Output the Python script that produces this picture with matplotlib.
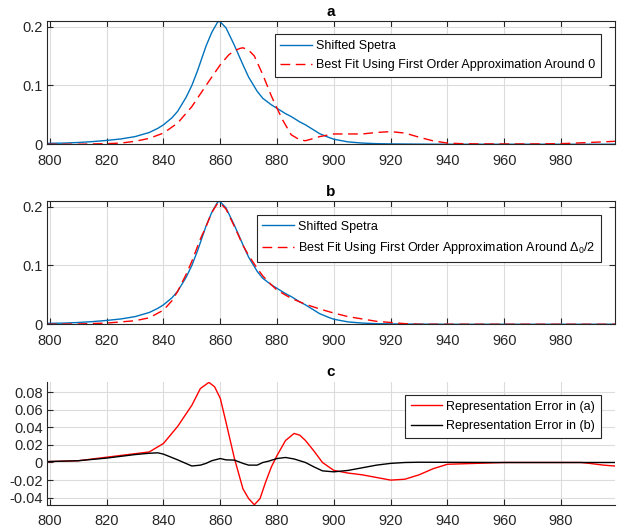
import matplotlib
matplotlib.use("Agg")
import matplotlib.pyplot as plt
from matplotlib.ticker import FormatStrFormatter

plt.rcParams['font.family'] = ['Liberation Sans', 'DejaVu Sans']
plt.rcParams['mathtext.fontset'] = 'custom'
plt.rcParams['mathtext.rm'] = 'Liberation Sans'
plt.rcParams['mathtext.it'] = 'Liberation Sans'
plt.rcParams['axes.unicode_minus'] = False

# shifted spectra (blue, same in a and b)
spec_x = [799, 805, 810, 815, 820, 825, 830, 835, 838, 840, 843, 845, 848, 850, 852, 855, 857,
          859, 859.5, 860, 862, 865, 868, 870, 873, 875, 878, 880, 883, 885, 888, 890, 893, 895,
          898, 900, 905, 910, 915, 920, 930, 940, 960, 980, 999]
spec_y = [0.0015, 0.002, 0.003, 0.0045, 0.0065, 0.009, 0.013, 0.02, 0.027, 0.033, 0.045, 0.056,
          0.08, 0.10, 0.125, 0.167, 0.19, 0.207, 0.209, 0.208, 0.198, 0.168, 0.135, 0.114, 0.09,
          0.078, 0.067, 0.061, 0.052, 0.047, 0.038, 0.033, 0.024, 0.018, 0.012, 0.0085, 0.004,
          0.002, 0.001, 0.0006, 0.0002, 0, 0, 0, 0]

# fit around 0 (panel a)
fit0_x = [799, 810, 820, 825, 830, 835, 840, 845, 850, 855, 860, 863, 865, 867, 868, 870, 872,
          875, 878, 880, 882, 885, 888, 890, 893, 895, 900, 905, 910, 915, 920, 925, 930, 935,
          940, 945, 950, 960, 970, 980, 990, 999]
fit0_y = [0.0, 0.0, 0.001, 0.002, 0.005, 0.010, 0.019, 0.036, 0.064, 0.100, 0.135, 0.152, 0.159,
          0.163, 0.164, 0.160, 0.150, 0.118, 0.082, 0.061, 0.041, 0.016, 0.0075, 0.006, 0.010,
          0.013, 0.0175, 0.0175, 0.0175, 0.020, 0.0215, 0.019, 0.012, 0.0057, 0.002, 0.001,
          0.0006, 0.0005, 0.0005, 0.001, 0.003, 0.005]

# fit around delta0/2 (panel b)
fit1_x = [799, 810, 820, 825, 830, 835, 840, 843, 845, 848, 850, 853, 855, 857, 859, 860, 862,
          865, 868, 870, 873, 875, 878, 880, 885, 890, 895, 900, 905, 910, 915, 920, 925, 930,
          960, 999]
fit1_y = [0.0, 0.0005, 0.002, 0.004, 0.006, 0.011, 0.024, 0.040, 0.056, 0.085, 0.107, 0.145,
          0.166, 0.19, 0.205, 0.206, 0.196, 0.166, 0.134, 0.117, 0.095, 0.082, 0.067, 0.058,
          0.044, 0.034, 0.026, 0.019, 0.013, 0.009, 0.005, 0.003, 0.001, 0.0, 0.0, 0.0]

# representation errors (panel c)
err_a_x = [799, 810, 820, 830, 835, 840, 845, 850, 853, 856, 858, 860, 862, 865, 868, 870, 872,
           874, 876, 878, 880, 883, 886, 888, 890, 893, 896, 900, 905, 910, 915, 920, 925, 930,
           935, 940, 950, 960, 970, 980, 987, 990, 995, 999]
err_a_y = [0.001, 0.002, 0.006, 0.010, 0.012, 0.0216, 0.041, 0.065, 0.084, 0.091, 0.086, 0.073,
           0.046, 0.0045, -0.030, -0.041, -0.048, -0.041, -0.022, -0.005, 0.008, 0.025, 0.033,
           0.031, 0.025, 0.013, 0.0, -0.009, -0.012, -0.014, -0.017, -0.020, -0.019, -0.014,
           -0.007, -0.002, -0.001, 0.0, 0.0, 0.0, 0.0, -0.001, -0.003, -0.004]
err_b_x = [799, 810, 820, 830, 835, 838, 840, 845, 850, 853, 855, 857, 860, 862, 865, 868, 870,
           873, 875, 877, 880, 883, 886, 890, 893, 896, 900, 905, 910, 915, 920, 925, 930, 960, 999]
err_b_y = [0.001, 0.002, 0.005, 0.009, 0.0105, 0.011, 0.0095, 0.003, -0.004, -0.003, -0.001,
           0.002, 0.0045, 0.003, 0.0027, -0.001, -0.003, -0.003, 0.0, 0.0015, 0.0045, 0.0057,
           0.004, 0.0, -0.005, -0.0095, -0.0106, -0.009, -0.006, -0.003, -0.001, 0.0, 0.0003,
           0.0, 0.0]

x_ticks = list(range(800, 1000, 20))
dark = '#262626'
blue = '#0072BD'


def style_axes(ax, box=True):
    ax.set_xlim(799, 999)
    ax.set_xticks(x_ticks)
    ax.grid(True, color='#dcdcdc', linewidth=0.8)
    ax.set_axisbelow(True)
    ax.tick_params(direction='in', length=4, width=0.8, colors=dark, labelsize=10.5,
                   top=box, right=box)
    ax.tick_params(axis='x', pad=7)
    ax.tick_params(axis='y', pad=3)
    for name, sp in ax.spines.items():
        sp.set_color(dark)
        sp.set_linewidth(0.8)
        if not box and name in ('top', 'right'):
            sp.set_visible(False)


def add_legend(ax, top):
    leg = ax.legend(loc='upper right', bbox_to_anchor=(0.975, top), borderaxespad=0,
                    fontsize=9, fancybox=False, framealpha=1, handlelength=2.5,
                    borderpad=0.45, labelspacing=0.6, handletextpad=0.35)
    fr = leg.get_frame()
    fr.set_edgecolor(dark)
    fr.set_linewidth(0.8)
    fr.set_boxstyle('square', pad=0)


fig = plt.figure(figsize=(6.32, 5.31), dpi=100)
w = 0.8987
ax1 = fig.add_axes([0.0744, 0.7279, w, 0.232])
ax2 = fig.add_axes([0.0744, 0.3889, w, 0.232])
ax3 = fig.add_axes([0.0744, 0.0499, w, 0.2307])

# panel a
ax1.plot(spec_x, spec_y, color=blue, lw=1.0, label='Shifted Spetra')
ax1.plot(fit0_x, fit0_y, color='#FF0000', lw=1.0, dashes=(7, 4),
         label='Best Fit Using First Order Approximation Around 0')
style_axes(ax1)
ax1.set_ylim(-0.0004, 0.209)
ax1.set_yticks([0, 0.1, 0.2])
ax1.yaxis.set_major_formatter(FormatStrFormatter('%g'))
ax1.set_title('a', fontweight='bold', fontsize=11, pad=4)
add_legend(ax1, 0.894)

# panel b
ax2.plot(spec_x, spec_y, color=blue, lw=1.0, label='Shifted Spetra')
ax2.plot(fit1_x, fit1_y, color='#FF0000', lw=1.0, dashes=(7, 4),
         label=r'Best Fit Using First Order Approximation Around $\Delta_0$/2')
style_axes(ax2)
ax2.set_ylim(-0.0004, 0.209)
ax2.set_yticks([0, 0.1, 0.2])
ax2.yaxis.set_major_formatter(FormatStrFormatter('%g'))
ax2.set_title('b', fontweight='bold', fontsize=11, pad=4)
add_legend(ax2, 0.889)

# panel c
ax3.plot(err_a_x, err_a_y, color='#FF0000', lw=1.0, label='Representation Error in (a)')
ax3.plot(err_b_x, err_b_y, color='black', lw=1.0, label='Representation Error in (b)')
style_axes(ax3, box=False)
ax3.set_ylim(-0.0477, 0.0914)
ax3.set_yticks([-0.04, -0.02, 0, 0.02, 0.04, 0.06, 0.08])
ax3.yaxis.set_major_formatter(FormatStrFormatter('%g'))
ax3.set_title('c', fontweight='bold', fontsize=11, pad=4)
add_legend(ax3, 0.894)

fig.savefig('out.png', dpi=100)
